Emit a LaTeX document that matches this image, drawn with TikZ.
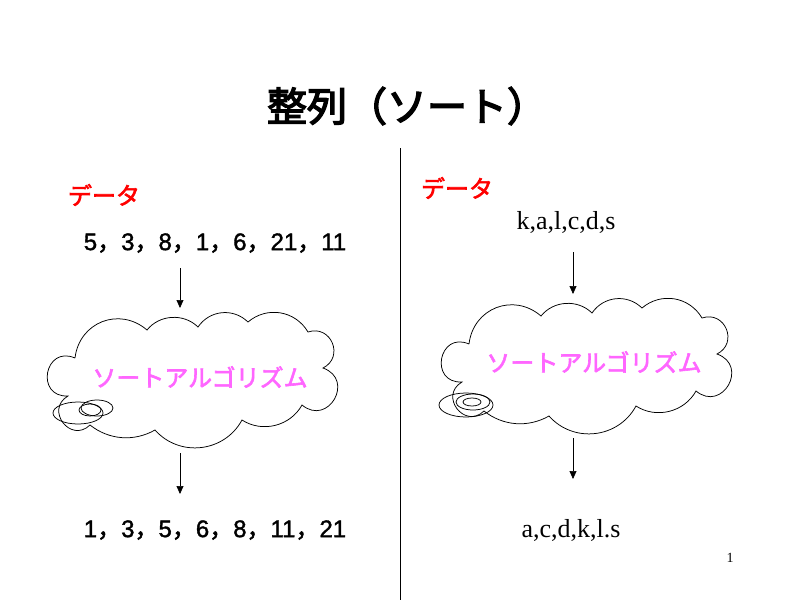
\documentclass[tikz,border=0pt]{standalone}
\usepackage{fontspec}
\setmainfont{Liberation Serif}
\newfontfamily\jp[FakeBold=2.5]{Noto Sans CJK JP}
\newfontfamily\jptitel[FakeBold=3.5]{Noto Sans CJK JP}
\newfontfamily\ziffer[FakeBold=1.5]{Liberation Sans}
\usetikzlibrary{arrows.meta}
\definecolor{rosa}{RGB}{255,102,255}
\newcommand\fs[1]{\fontsize{#1}{#1}\selectfont}
\newcommand\ko{{\jp ，}}

\begin{document}
\begin{tikzpicture}[x=1pt, y=-1pt,
  puff/.style 2 args={bend right=#1, looseness=#2},
  linie/.style={line width=0.75pt},
  wolke/.pic={
    \draw[linie] (-118,-22) to[puff={103}{2.2}] (-125,16) to[puff={97}{1.9}] (-103,45)
      to[puff={34}{0.95}] (-38,50) to[puff={55}{1.08}] (49,40) to[puff={47}{1.0}] (109,25)
      to[puff={100}{2.06}] (130,-12) to[puff={86}{1.6}] (115,-48) to[puff={50}{1.05}] (55,-58)
      to[puff={50}{1.05}] (5,-53) to[puff={48}{1.0}] (-46,-50) to[puff={62}{1.2}] (-118,-22);
  },
  algo/.style={font=\jp\fs{24}, text=rosa, inner sep=0pt},
  daten/.style={font=\jp\fs{24}, text=red, inner sep=0pt},
  zahl/.style={font=\ziffer\fs{24}, inner sep=0pt},
  buchst/.style={font=\fs{26}, inner sep=0pt},
  pfeil/.style={-{Triangle[length=8pt,width=7pt]}, line width=0.7pt}]

  \useasboundingbox (0,0) rectangle (800,600);

  \node[font=\jptitel\fs{40}, inner sep=0pt] (titel) at (407,106) {整列（ソート）};
  \draw[linie] (400,148) coordinate (trennO) -- (400,600) coordinate (trennU);

  %% linke Seite
  \node[daten] (datenL) at (104,195) {データ};
  \node[zahl] (eingL) at (215,243) {5\ko3\ko8\ko1\ko6\ko21\ko11};
  \pic (wolkeL) at (193,380) {wolke};
  \node[algo] (algoL) at (200,377) {ソートアルゴリズム};
  \node[zahl] (ausgL) at (215,530) {1\ko3\ko5\ko6\ko8\ko11\ko21};

  \coordinate (pL1) at (180,268);
  \coordinate (pL2) at (180,308);
  \coordinate (pL3) at (180,453);
  \coordinate (pL4) at (180,494);
  \draw[pfeil] (pL1) -- (pL2);
  \draw[pfeil] (pL3) -- (pL4);

  \draw[linie] (78,413) ellipse [x radius=25pt, y radius=11pt];
  \draw[linie] (97,408) ellipse [x radius=16pt, y radius=8pt];
  \draw[linie] (90,410) ellipse [x radius=11pt, y radius=6pt];

  %% rechte Seite
  \node[daten] (datenR) at (457,188) {データ};
  \node[buchst] (eingR) at (566,222) {k,a,l,c,d,s};
  \pic (wolkeR) at (587,366) {wolke};
  \node[algo] (algoR) at (594,362) {ソートアルゴリズム};
  \node[buchst] (ausgR) at (571,530) {a,c,d,k,l.s};

  \coordinate (pR1) at (573,252);
  \coordinate (pR2) at (573,294);
  \coordinate (pR3) at (573,438);
  \coordinate (pR4) at (573,479);
  \draw[pfeil] (pR1) -- (pR2);
  \draw[pfeil] (pR3) -- (pR4);

  \draw[linie] (466,405) ellipse [x radius=27pt, y radius=12pt];
  \draw[linie] (473,402) ellipse [x radius=17pt, y radius=8pt];
  \draw[linie] (472,402) ellipse [x radius=9pt, y radius=4pt];

  \node[font=\fs{14}, inner sep=0pt] (seite) at (730,558) {1};

\end{tikzpicture}
\end{document}
